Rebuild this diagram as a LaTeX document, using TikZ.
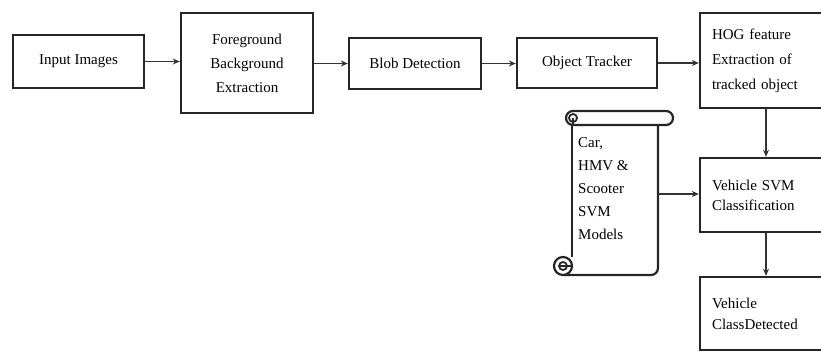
\documentclass[tikz,border=0pt]{standalone}
\usepackage{fontspec}
\setmainfont{Liberation Serif}
\usetikzlibrary{arrows.meta,calc}
\begin{document}
\begin{tikzpicture}[x=1pt,y=-1pt,
  font=\fontsize{15}{23}\selectfont,
  block/.style={draw=black!85, line width=2.4pt, fill=white, inner sep=0pt, align=center},
  lblock/.style={block, align=left, text width=108pt, inner xsep=12pt},
  flow/.style={draw=black!80, line width=1.5pt, -{Stealth[length=7pt,width=6pt]}},
  scrollline/.style={draw=black!85, line width=2.2pt, line join=round}]
\useasboundingbox (0,0) rectangle (821,352);
\clip (0,0) rectangle (821,352);

% main pipeline
\node[block, minimum width=131pt, minimum height=53pt] (input) at (78.5,61.5) {Input Images};
\node[block, minimum width=132pt, minimum height=100pt, font=\fontsize{15}{24}\selectfont] (fg) at (247,63) {Foreground\\Background\\Extraction};
\node[block, minimum width=132pt, minimum height=51pt] (blob) at (415,63.5) {Blob Detection};
\node[block, minimum width=140pt, minimum height=50pt] (track) at (587,63) {Object Tracker};

% right column
\node[lblock, minimum width=132pt, minimum height=95pt, font=\fontsize{15}{25}\selectfont] (hog) at (766,60.5) {HOG feature\\Extraction of\\tracked object};
\node[lblock, minimum width=132pt, minimum height=74pt, font=\fontsize{15}{20}\selectfont] (svm) at (766,195) {Vehicle SVM\\Classification};
\node[lblock, minimum width=132pt, minimum height=73pt, font=\fontsize{15}{21}\selectfont] (cls) at (766,313.5) {Vehicle\\ClassDetected};

% scroll holding the models
\fill[white] (572,118) rectangle (658,275);
\draw[scrollline] (572,125) -- (572,257);
\draw[scrollline] (658,125) -- (658,268) arc[start angle=0,end angle=90,radius=7] -- (563,275);
% top roll
\draw[scrollline, fill=white, rounded corners=7pt] (566,111) rectangle (673,125);
\draw[scrollline, line width=1.8pt] (573,125) -- (573,118);
\draw[scrollline, line width=1.8pt] (573,118) circle[radius=4];
% bottom curl
\draw[scrollline, fill=white] (563,266) circle[radius=9];
\draw[scrollline, line width=1.8pt] (563,266) circle[radius=4];
\draw[scrollline, line width=1.8pt] (559,266) -- (572,266);
\node[align=left, anchor=west, inner sep=0pt, font=\fontsize{15}{23}\selectfont] (models) at (578,189) {Car,\\HMV \&\\Scooter\\SVM\\Models};
\coordinate (scrollout) at (658,194);

% connectors
\draw[flow] (input.east) -- (input.east -| fg.west);
\draw[flow] (fg.east |- blob) -- (blob);
\draw[flow] (blob.east) -- (blob.east -| track.west);
\draw[flow] (track) -- (track -| hog.west);
\draw[flow] (hog) -- (svm);
\draw[flow] (svm) -- (cls);
\draw[flow] (scrollout) -- (scrollout -| svm.west);
\end{tikzpicture}
\end{document}
